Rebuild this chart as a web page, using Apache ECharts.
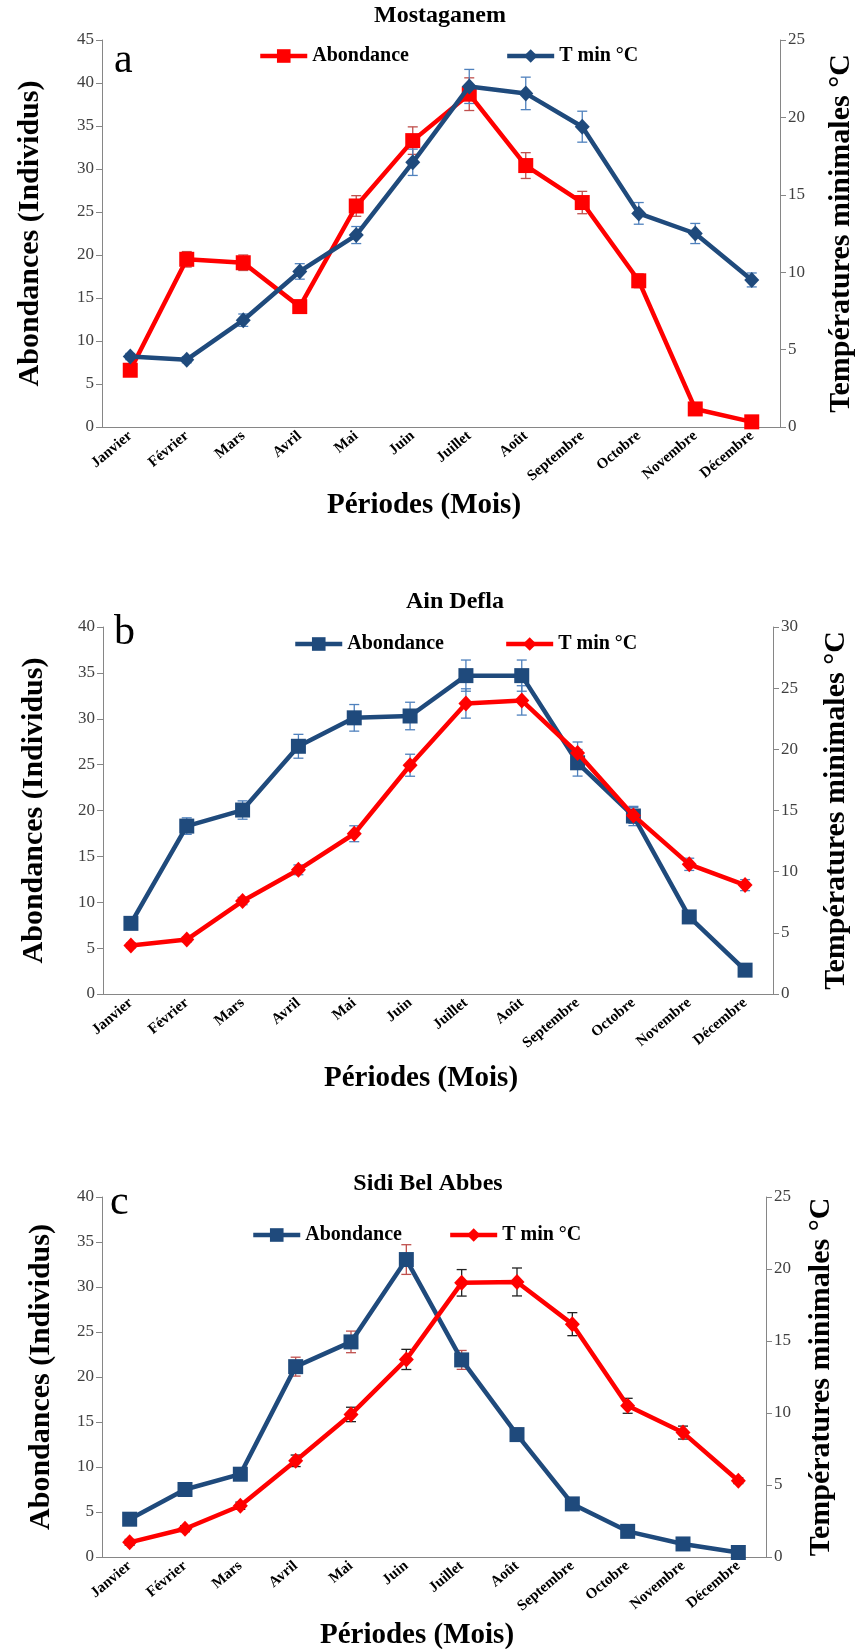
<!DOCTYPE html>
<html>
<head>
<meta charset="utf-8">
<title>Abondance et T min</title>
<script src="https://cdn.jsdelivr.net/npm/echarts@6/dist/echarts.min.js"></script>
<style>
  html, body { margin: 0; padding: 0; background: #fff; }
  .chart { position: absolute; left: 0; width: 864px; }
</style>
</head>
<body>
<div id="chart-a" class="chart" style="top:0;height:560px"></div>
<div id="chart-b" class="chart" style="top:560px;height:550px"></div>
<div id="chart-c" class="chart" style="top:1110px;height:539px"></div>
<script>
const mois = ['Janvier', 'Février', 'Mars', 'Avril', 'Mai', 'Juin', 'Juillet', 'Août', 'Septembre', 'Octobre', 'Novembre', 'Décembre'];

// a - Mostaganem
const abondanceA = [6.6, 19.5, 19.1, 14.0, 25.7, 33.3, 38.7, 30.4, 26.1, 17.0, 2.1, 0.6];
const abondanceErrA = [0.3, 0.9, 0.9, 0.4, 1.2, 1.6, 1.9, 1.5, 1.3, 0.8, 0.3, 0.2];
const tminA = [4.55, 4.35, 6.9, 10.05, 12.4, 17.1, 22.0, 21.55, 19.4, 13.8, 12.5, 9.5];
const tminErrA = [0.2, 0.2, 0.4, 0.5, 0.55, 0.85, 1.1, 1.05, 1.0, 0.7, 0.65, 0.45];

// b - Ain Defla
const abondanceB = [7.7, 18.3, 20.05, 27.0, 30.1, 30.3, 34.7, 34.7, 25.2, 19.4, 8.4, 2.6];
const abondanceErrB = [0.3, 0.9, 1.0, 1.3, 1.45, 1.5, 1.7, 1.7, 1.45, 1.05, 0.4, 0.3];
const tminB = [3.97, 4.45, 7.6, 10.15, 13.1, 18.7, 23.75, 24.0, 19.7, 14.6, 10.6, 8.9];
const tminErrB = [0.2, 0.2, 0.3, 0.4, 0.65, 0.9, 1.2, 1.2, 0.9, 0.65, 0.5, 0.45];

// c - Sidi Bel Abbes
const abondanceC = [4.2, 7.5, 9.2, 21.15, 23.9, 33.05, 21.9, 13.6, 5.9, 2.85, 1.45, 0.5];
const abondanceErrC = [0.3, 0.5, 0.5, 1.05, 1.2, 1.65, 1.05, 0.7, 0.3, 0.3, 0.2, 0.2];
const tminC = [1.02, 1.96, 3.56, 6.68, 9.9, 13.72, 19.04, 19.1, 16.17, 10.5, 8.64, 5.3];
const tminErrC = [0.2, 0.2, 0.25, 0.4, 0.5, 0.7, 0.92, 0.97, 0.8, 0.52, 0.45, 0.2];

const RED = '#ff0000';
const BLUE = '#1f4a7c';
const SERIF = "'Liberation Serif', 'Times New Roman', serif";

// [index, bas, haut] pour les barres d'erreur
function errorData(values, errs) {
    return values.map(function (v, i) {
        return [i, v - errs[i], v + errs[i]];
    });
}

// barre d'erreur verticale avec petits chapeaux
function errorRenderer(color) {
    return function (params, api) {
        let hi = api.coord([api.value(0), api.value(2)]);
        let lo = api.coord([api.value(0), api.value(1)]);
        let half = 5;
        let style = {stroke: color, lineWidth: 1.3};
        return {
            type: 'group',
            children: [
                {type: 'line', shape: {x1: hi[0], y1: hi[1], x2: lo[0], y2: lo[1]}, style: style},
                {type: 'line', shape: {x1: hi[0] - half, y1: hi[1], x2: hi[0] + half, y2: hi[1]}, style: style},
                {type: 'line', shape: {x1: lo[0] - half, y1: lo[1], x2: lo[0] + half, y2: lo[1]}, style: style}
            ]
        };
    };
}

function valueAxis(max, position, name, nameGap) {
    return {
        type: 'value',
        position: position,
        min: 0,
        max: max,
        interval: 5,
        name: name,
        nameLocation: 'middle',
        nameRotate: 90,
        nameGap: nameGap,
        nameTextStyle: {fontFamily: SERIF, fontWeight: 'bold', fontSize: 30, color: '#000'},
        axisLine: {show: true, lineStyle: {color: '#868686'}},
        axisTick: {show: true, length: 6, lineStyle: {color: '#868686'}},
        axisLabel: {fontFamily: SERIF, fontSize: 17, color: '#404040', margin: 8},
        splitLine: {show: false}
    };
}

function buildOption(c) {
    return {
        animation: false,
        title: {
            text: c.title,
            left: c.titleX,
            top: c.titleTop,
            padding: 0,
            textAlign: 'center',
            textStyle: {fontFamily: SERIF, fontWeight: 'bold', fontSize: 24, color: '#000'}
        },
        legend: {
            data: ['Abondance', 'T min °C'],
            left: c.legendLeft,
            top: c.legendTop,
            padding: 0,
            itemWidth: 47,
            itemHeight: 17,
            itemGap: c.legendGap,
            lineStyle: {width: 4.5},
            textStyle: {fontFamily: SERIF, fontWeight: 'bold', fontSize: 20, color: '#000'}
        },
        graphic: [{
            type: 'text',
            left: c.letterX,
            top: c.letterY,
            style: {text: c.letter, font: '42px ' + SERIF, fill: '#000'}
        }],
        grid: {left: c.left, top: c.top, width: c.width, height: c.height, outerBoundsMode: 'none'},
        xAxis: {
            type: 'category',
            data: mois,
            boundaryGap: true,
            name: 'Périodes (Mois)',
            nameLocation: 'middle',
            nameGap: c.xNameGap,
            nameTextStyle: {fontFamily: SERIF, fontWeight: 'bold', fontSize: 29, color: '#000', padding: [0, 34, 0, 0]},
            axisLine: {lineStyle: {color: '#868686'}},
            axisTick: {length: 6, lineStyle: {color: '#868686'}},
            axisLabel: {interval: 0, rotate: 40, margin: 7, fontFamily: SERIF, fontWeight: 'bold', fontSize: 15, color: '#000'}
        },
        yAxis: [
            valueAxis(c.leftMax, 'left', 'Abondances (Individus)', c.leftNameGap),
            valueAxis(c.rightMax, 'right', 'Températures minimales °C', c.rightNameGap)
        ],
        series: [
            {
                name: 'Abondance',
                type: 'line',
                yAxisIndex: 0,
                data: c.abondance,
                symbol: 'rect',
                symbolSize: 15,
                color: c.abColor,
                lineStyle: {width: 4.5, color: c.abColor},
                itemStyle: {color: c.abColor},
                z: 3
            },
            {
                name: 'T min °C',
                type: 'line',
                yAxisIndex: 1,
                data: c.tmin,
                symbol: 'diamond',
                symbolSize: [15, 16],
                color: c.tColor,
                lineStyle: {width: 4.5, color: c.tColor},
                itemStyle: {color: c.tColor},
                z: 4
            },
            {
                name: 'err-ab',
                type: 'custom',
                yAxisIndex: 0,
                silent: true,
                data: errorData(c.abondance, c.abondanceErr),
                encode: {x: 0, y: [1, 2]},
                renderItem: errorRenderer(c.abErrColor),
                z: 2
            },
            {
                name: 'err-t',
                type: 'custom',
                yAxisIndex: 1,
                silent: true,
                data: errorData(c.tmin, c.tminErr),
                encode: {x: 0, y: [1, 2]},
                renderItem: errorRenderer(c.tErrColor),
                z: 2
            }
        ]
    };
}

const charts = [
    {
        id: 'chart-a', title: 'Mostaganem', titleX: 440, titleTop: 4, letter: 'a', letterX: 114, letterY: 40,
        legendLeft: 258, legendTop: 46, legendGap: 96,
        left: 102, top: 40, width: 678, height: 387,
        leftMax: 45, rightMax: 25, leftNameGap: 57, rightNameGap: 46, xNameGap: 62,
        abondance: abondanceA, abondanceErr: abondanceErrA, tmin: tminA, tminErr: tminErrA,
        abColor: RED, tColor: BLUE, abErrColor: '#c0504d', tErrColor: '#4f81bd'
    },
    {
        id: 'chart-b', title: 'Ain Defla', titleX: 455, titleTop: 30, letter: 'b', letterX: 114, letterY: 52,
        legendLeft: 293, legendTop: 74, legendGap: 60,
        left: 103, top: 67, width: 670, height: 367,
        leftMax: 40, rightMax: 30, leftNameGap: 54, rightNameGap: 48, xNameGap: 70,
        abondance: abondanceB, abondanceErr: abondanceErrB, tmin: tminB, tminErr: tminErrB,
        abColor: BLUE, tColor: RED, abErrColor: '#4f81bd', tErrColor: '#4f81bd'
    },
    {
        id: 'chart-c', title: 'Sidi Bel Abbes', titleX: 428, titleTop: 62, letter: 'c', letterX: 110, letterY: 72,
        legendLeft: 251, legendTop: 115, legendGap: 46,
        left: 102, top: 87, width: 664, height: 360,
        leftMax: 40, rightMax: 25, leftNameGap: 46, rightNameGap: 40, xNameGap: 62,
        abondance: abondanceC, abondanceErr: abondanceErrC, tmin: tminC, tminErr: tminErrC,
        abColor: BLUE, tColor: RED, abErrColor: '#c0504d', tErrColor: '#222222'
    }
];

charts.forEach(function (c) {
    let el = echarts.init(document.getElementById(c.id), null, {renderer: 'canvas'});
    el.setOption(buildOption(c));
});
</script>
</body>
</html>
